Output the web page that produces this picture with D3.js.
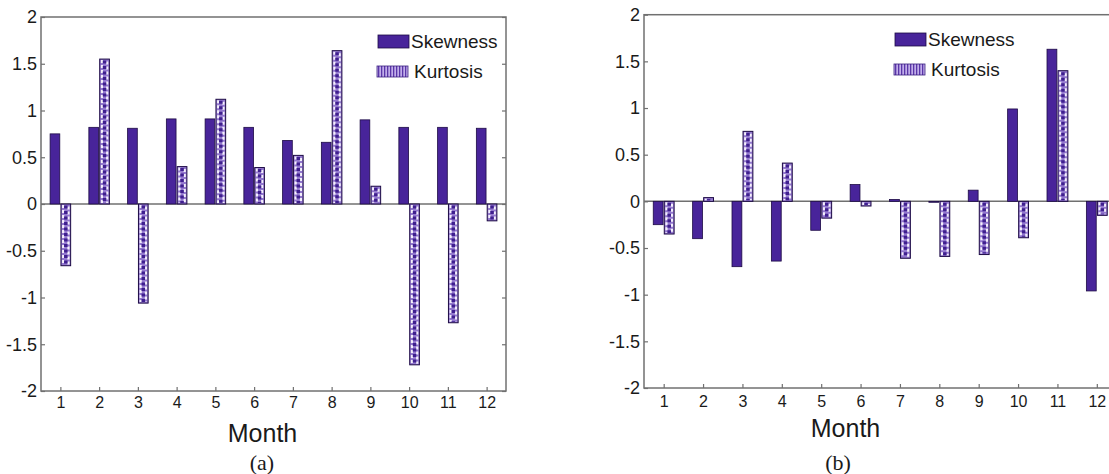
<!DOCTYPE html>
<html>
<head>
<meta charset="utf-8">
<script src="https://cdn.jsdelivr.net/npm/d3@7"></script>
<style>
  html, body { margin: 0; padding: 0; background: #fff; overflow: hidden; }
  svg { display: block; }
  text { font-family: "Liberation Sans", Arial, sans-serif; fill: #1a1a1a; }
  .domain { display: none; }
</style>
</head>
<body>
<svg id="chart"></svg>
<script>
  const months = [1, 2, 3, 4, 5, 6, 7, 8, 9, 10, 11, 12];
  const yTicks = [-2, -1.5, -1, -0.5, 0, 0.5, 1, 1.5, 2];

  // panel (a)
  const skewA = [0.75, 0.82, 0.81, 0.91, 0.91, 0.82, 0.68, 0.66, 0.90, 0.82, 0.82, 0.81];
  const kurtA = [-0.66, 1.55, -1.06, 0.40, 1.12, 0.39, 0.52, 1.64, 0.19, -1.72, -1.27, -0.18];

  // panel (b)
  const skewB = [-0.25, -0.40, -0.70, -0.64, -0.31, 0.18, 0.02, -0.01, 0.12, 0.99, 1.63, -0.96];
  const kurtB = [-0.35, 0.04, 0.75, 0.41, -0.18, -0.05, -0.61, -0.59, -0.57, -0.39, 1.40, -0.15];

  const width = 1109, height = 474;
  const skewColor = '#48249a';
  const frameColor = '#707070';

  const svg = d3.select('#chart')
      .attr('width', width)
      .attr('height', height);

  // stripes for the kurtosis legend swatch
  const defs = svg.append('defs');
  const pat = defs.append('pattern')
      .attr('id', 'stripes')
      .attr('patternUnits', 'userSpaceOnUse')
      .attr('width', 3).attr('height', 4);
  pat.append('rect').attr('width', 3).attr('height', 4).attr('fill', '#c2aeea');
  pat.append('rect').attr('width', 1.3).attr('height', 4).attr('fill', '#5a36a8');

  function panel(opts) {
    const { left, right, top, bottom, skew, kurt, legend, caption, monthY, tickPad } = opts;

    const x = d3.scaleLinear().domain([0.5, 12.5]).range([left, right]);
    const y = d3.scaleLinear().domain([-2, 2]).range([bottom, top]);
    const bw = 0.25, off = 0.14;

    const g = svg.append('g');

    // frame
    g.append('rect')
        .attr('x', left).attr('y', top)
        .attr('width', right - left).attr('height', bottom - top)
        .attr('fill', 'none')
        .attr('stroke', frameColor)
        .attr('stroke-width', 1.5);

    // zero baseline
    g.append('line')
        .attr('x1', left).attr('x2', right)
        .attr('y1', y(0)).attr('y2', y(0))
        .attr('stroke', frameColor).attr('stroke-width', 1.5);

    // skewness bars
    g.selectAll('rect.skew').data(skew)
      .enter().append('rect')
        .attr('class', 'skew')
        .attr('x', (d, i) => x(months[i] - off - bw / 2))
        .attr('width', x(bw) - x(0))
        .attr('y', d => y(Math.max(d, 0)))
        .attr('height', d => Math.abs(y(d) - y(0)))
        .attr('fill', skewColor)
        .attr('stroke', '#1d0b45')
        .attr('stroke-width', 0.8);

    // kurtosis bars: purple with a dashed white/dark texture
    const kg = g.selectAll('g.kurt').data(kurt)
      .enter().append('g')
        .attr('class', 'kurt');

    const kx = (d, i) => x(months[i] + off - bw / 2);
    const kw = x(bw) - x(0);

    kg.append('rect')
        .attr('x', kx)
        .attr('width', kw)
        .attr('y', d => y(Math.max(d, 0)))
        .attr('height', d => Math.abs(y(d) - y(0)))
        .attr('fill', '#9479cf');

    kg.append('line')
        .attr('x1', (d, i) => kx(d, i) + 2.2).attr('x2', (d, i) => kx(d, i) + 2.2)
        .attr('y1', d => y(Math.max(d, 0)) + 1)
        .attr('y2', d => y(Math.min(d, 0)) - 1)
        .attr('stroke', '#f4f0fb').attr('stroke-width', 2.2)
        .attr('stroke-dasharray', '3,2');

    kg.append('line')
        .attr('x1', (d, i) => kx(d, i) + kw - 2.2).attr('x2', (d, i) => kx(d, i) + kw - 2.2)
        .attr('y1', d => y(Math.max(d, 0)) + 2.5)
        .attr('y2', d => y(Math.min(d, 0)) - 1)
        .attr('stroke', '#f4f0fb').attr('stroke-width', 2.2)
        .attr('stroke-dasharray', '3,2');

    kg.append('line')
        .attr('x1', (d, i) => kx(d, i) + kw / 2).attr('x2', (d, i) => kx(d, i) + kw / 2)
        .attr('y1', d => y(Math.max(d, 0)) + 1.5)
        .attr('y2', d => y(Math.min(d, 0)) - 1)
        .attr('stroke', '#3f1f8f').attr('stroke-width', 3.5)
        .attr('stroke-dasharray', '3,2.5');

    kg.append('rect')
        .attr('x', kx)
        .attr('width', kw)
        .attr('y', d => y(Math.max(d, 0)))
        .attr('height', d => Math.abs(y(d) - y(0)))
        .attr('fill', 'none')
        .attr('stroke', '#1d0b45')
        .attr('stroke-width', 1);

    // axes
    const yAxis = g.append('g')
        .attr('transform', `translate(${left},0)`)
        .call(d3.axisLeft(y).tickValues(yTicks).tickSize(-4).tickPadding(4)
          .tickFormat(d => String(d)));
    yAxis.selectAll('text').attr('font-size', 18);

    g.append('g')
        .attr('transform', `translate(${right},0)`)
        .call(d3.axisRight(y).tickValues(yTicks).tickSize(-4).tickFormat(''));

    const xAxis = g.append('g')
        .attr('transform', `translate(0,${bottom})`)
        .call(d3.axisBottom(x).tickValues(months).tickSize(-4).tickPadding(tickPad)
          .tickFormat(d => String(d)));
    xAxis.selectAll('text').attr('font-size', 16);

    g.selectAll('.tick line').attr('stroke', frameColor).attr('stroke-width', 1.2);

    g.append('text')
        .attr('x', (left + Math.min(right, width)) / 2 + opts.monthShift)
        .attr('y', monthY)
        .attr('text-anchor', 'middle')
        .attr('font-size', 25)
        .text('Month');

    g.append('text')
        .attr('x', opts.captionX)
        .attr('y', 470)
        .attr('text-anchor', 'middle')
        .attr('font-size', 22)
        .style('font-family', '"Liberation Serif", "Times New Roman", serif')
        .text(caption);

    // legend
    const lg = g.append('g')
        .attr('transform', `translate(${legend[0]},${legend[1]})`);
    lg.append('rect')
        .attr('x', 0).attr('y', 0).attr('width', 31).attr('height', 13)
        .attr('fill', skewColor).attr('stroke', '#1d0b45').attr('stroke-width', 0.8);
    lg.append('text')
        .attr('x', 33).attr('y', 13)
        .attr('font-size', 19)
        .text('Skewness');
    lg.append('rect')
        .attr('x', -1).attr('y', 31).attr('width', 31).attr('height', 11)
        .attr('fill', 'url(#stripes)').attr('stroke', '#3a2080').attr('stroke-width', 0.8);
    lg.append('text')
        .attr('x', 36).attr('y', 43)
        .attr('font-size', 19)
        .text('Kurtosis');
  }

  panel({
    left: 41, right: 506, top: 17, bottom: 391,
    skew: skewA, kurt: kurtA,
    legend: [378, 35], caption: '(a)', captionX: 262,
    monthY: 442, monthShift: -11, tickPad: 6
  });

  panel({
    left: 644, right: 1116.5, top: 14.7, bottom: 388,
    skew: skewB, kurt: kurtB,
    legend: [895, 33], caption: '(b)', captionX: 838,
    monthY: 437, monthShift: -31, tickPad: 8
  });
</script>
</body>
</html>
